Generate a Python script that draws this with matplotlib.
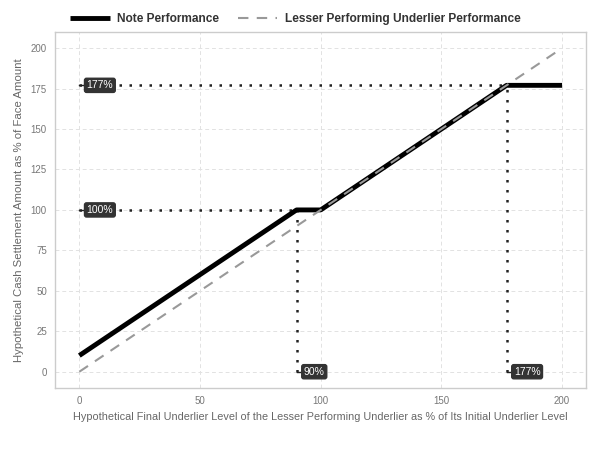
import matplotlib
matplotlib.use("Agg")
import matplotlib.pyplot as plt

plt.rcParams['font.family'] = ['Liberation Sans', 'DejaVu Sans']

note_x = [0, 90, 100, 177, 200]
note_y = [10, 100, 100, 177, 177]
under_x = [0, 200]
under_y = [0, 200]

h_lines = [(177, 177), (100, 90)]   # (y level, x end)
v_lines = [(90, 100), (177, 177)]   # (x level, y end)
y_labels = [(177, "177%"), (100, "100%")]
x_labels = [(90, "90%"), (177, "177%")]

xticks = [0, 50, 100, 150, 200]
yticks = [0, 25, 50, 75, 100, 125, 150, 175, 200]

fig = plt.figure(figsize=(6, 4.5), dpi=100)
ax = fig.add_axes([0.092, 0.138, 0.885, 0.791])

ax.grid(True, color='#e2e2e2', linestyle=(0, (4, 3)), linewidth=0.7)
ax.set_axisbelow(True)

for y, xe in h_lines:
    ax.plot([0, xe], [y, y], color='#222222', linestyle=(0, (1, 3)), linewidth=1.8, zorder=2)
for x, ye in v_lines:
    ax.plot([x, x], [0, ye], color='#222222', linestyle=(0, (1, 3)), linewidth=1.8, zorder=2)

ax.plot(note_x, note_y, color='black', linewidth=3.5, solid_capstyle='butt', label='Note Performance', zorder=3)
ax.plot(under_x, under_y, color='#999999', linewidth=1.5, linestyle=(0, (5, 4)), label='Lesser Performing Underlier Performance', zorder=4)

bbox = dict(boxstyle='round,pad=0.2,rounding_size=0.2', fc='#333333', ec='#333333')
for y, t in y_labels:
    ax.plot([0, 3], [y, y], color='#222222', linewidth=1, zorder=5)
    ax.text(3, y, t, color='white', fontsize=7.5, va='center', ha='left', bbox=bbox, zorder=6)
for x, t in x_labels:
    ax.plot([x, x + 3], [0, 0], color='#222222', linewidth=1, zorder=5)
    ax.text(x + 3, 0, t, color='white', fontsize=7.5, va='center', ha='left', bbox=bbox, zorder=6)

ax.set_xlim(-10, 210)
ax.set_ylim(-10, 210)
ax.set_xticks(xticks)
ax.set_yticks(yticks)
ax.tick_params(axis='both', length=0, labelsize=7, labelcolor='#777777', pad=6)
for s in ax.spines.values():
    s.set_color('#cccccc')
    s.set_linewidth(1)

ax.set_xlabel('Hypothetical Final Underlier Level of the Lesser Performing Underlier as % of Its Initial Underlier Level',
              fontsize=7.8, color='#666666', labelpad=4)
ax.set_ylabel('Hypothetical Cash Settlement Amount as % of Face Amount', fontsize=8.2, color='#666666', labelpad=5)

leg = ax.legend(loc='lower left', bbox_to_anchor=(0.015, 1.0), ncol=2, frameon=False,
                prop={'weight': 'bold', 'size': 8.6}, handlelength=3.3, columnspacing=1.6,
                borderaxespad=0.2, handletextpad=0.6)
for t in leg.get_texts():
    t.set_color('#333333')

fig.savefig('out.png', dpi=100, facecolor='white')
